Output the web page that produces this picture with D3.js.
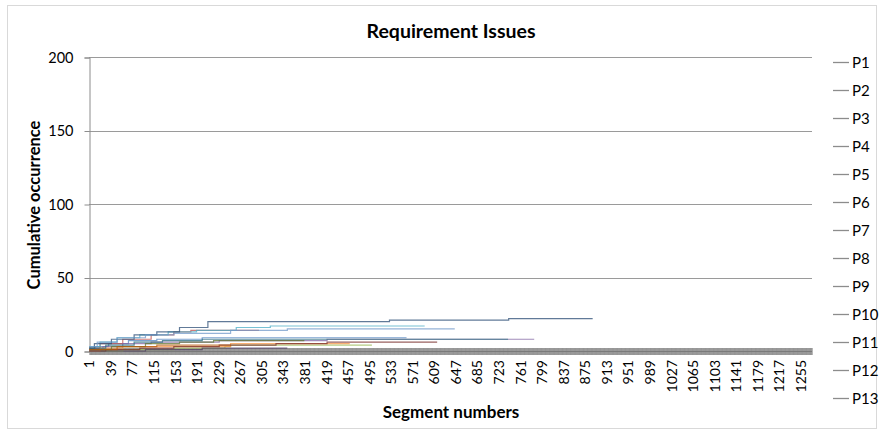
<!DOCTYPE html>
<html><head><meta charset="utf-8">
<script src="https://cdn.jsdelivr.net/npm/d3@7"></script>
<style>body{margin:0;background:#fff}svg{display:block}text{font-family:Lato,"Open Sans",sans-serif;fill:#000}</style>
</head><body><svg id="c" width="882" height="434"></svg>
<script>
// ---- data ----
const seriesNames = ["P1","P2","P3","P4","P5","P6","P7","P8","P9","P10","P11","P12","P13"];
const seriesColors = ["#4F81BD","#C0504D","#9BBB59","#8064A2","#4BACC6","#F79646","#2C4D75","#772C2A","#5F7530","#4D3B62","#276A7C","#B65708","#729ACA"];
// each series: change points [segment, cumulative occurrence]
const p1  = [[1,1],[12,3],[35,5],[70,7],[120,8],[200,9]];
const p2  = [[1,2],[20,5],[60,8],[110,11],[150,13],[180,14]];
const p3  = [[1,0],[60,1],[150,2],[240,3],[250,4]];
const p4  = [[1,1],[25,3],[60,5],[110,6],[230,7],[420,8]];
const p5  = [[1,3],[20,6],[50,9],[90,11],[140,13],[190,14],[260,16],[320,17]];
const p6  = [[1,0],[20,2],[60,3],[250,5]];
const p7  = [[1,2],[10,5],[40,8],[80,11],[120,13],[160,16],[210,20],[530,21],[740,22]];
const p8  = [[1,0],[30,1],[90,2],[150,3],[230,4],[330,5],[420,6]];
const p9  = [[1,1],[40,3],[100,5],[160,6],[220,7]];
const p10 = [[1,0],[100,1],[200,2]];
const p11 = [[1,2],[30,4],[80,6],[130,7],[200,8]];
const p12 = [[1,1],[50,3],[120,4]];
const p13 = [[1,3],[15,6],[50,9],[100,11],[150,12],[250,14],[350,15]];
const seriesPoints = [p1,p2,p3,p4,p5,p6,p7,p8,p9,p10,p11,p12,p13];
// last segment of each series
const seriesEnds = [560,300,499,785,592,460,888,614,380,350,739,250,645];
const segmentCount = 1274;
const xTickLabels = d3.range(1, 1256, 38);
const yTicks = [0,50,100,150,200];

// ---- chart ----
const svg = d3.select("#c");
svg.append("rect").attr("x",7.5).attr("y",5.5).attr("width",869).attr("height",423)
  .attr("fill","#fff").attr("stroke","#d9d9d9");

const x = d3.scaleLinear().domain([0.5, segmentCount + 0.5]).range([89, 812]);
const y = d3.scaleLinear().domain([0, 200]).range([351, 57]);

// gridlines
svg.append("g").selectAll("line").data(yTicks.filter(d=>d>0)).join("line")
  .attr("x1", 89).attr("x2", 812).attr("y1", d=>Math.round(y(d))+0.5).attr("y2", d=>Math.round(y(d))+0.5)
  .attr("stroke","#9a9a9a").attr("stroke-width",1);

// y axis
const yAxis = svg.append("g").attr("transform","translate(89.5,0.5)")
  .call(d3.axisLeft(y).tickValues(yTicks).tickSize(5).tickPadding(11));
yAxis.select(".domain").attr("stroke","#8c8c8c");
yAxis.selectAll(".tick line").attr("stroke","#8c8c8c");
yAxis.selectAll("text").style("font-size","14.5px").style("font-family","Lato");

// x axis: tick for every segment
const xAxis = svg.append("g").attr("transform","translate(0,348)")
  .call(d3.axisBottom(x).tickValues(d3.range(1, segmentCount+1)).tickSize(7).tickFormat(""));
xAxis.select(".domain").remove();
xAxis.selectAll(".tick line").attr("stroke","#8a8a8a").attr("stroke-width",0.8);
svg.append("line").attr("x1",89).attr("x2",812).attr("y1",351.5).attr("y2",351.5).attr("stroke","#7a7a7a");

svg.append("g").selectAll("text").data(xTickLabels).join("text")
  .attr("transform", d=>`translate(${x(d)+5},360) rotate(-90)`)
  .attr("text-anchor","end").style("font-size","14px").text(d=>d);

// series
const line = d3.line().x(d=>x(d[0])).y(d=>y(d[1])).curve(d3.curveStepAfter);
seriesPoints.forEach((pts, i) => {
  const full = pts.concat([[seriesEnds[i], pts[pts.length-1][1]]]);
  svg.append("path").datum(full).attr("d", line)
    .attr("fill","none").attr("stroke", seriesColors[i]).attr("stroke-width",1.2).attr("opacity",0.75);
});

// titles
svg.append("text").attr("x",451).attr("y",38).attr("text-anchor","middle")
  .style("font-size","19.5px").style("font-weight","bold").text("Requirement Issues");
svg.append("text").attr("transform","translate(40,205) rotate(-90)").attr("text-anchor","middle")
  .style("font-size","16.5px").style("font-weight","bold").text("Cumulative occurrence");
svg.append("text").attr("x",451).attr("y",418).attr("text-anchor","middle")
  .style("font-size","17px").style("font-weight","bold").text("Segment numbers");

// legend
const lg = svg.append("g").selectAll("g").data(seriesNames).join("g")
  .attr("transform",(d,i)=>`translate(833,${62 + i*28})`);
lg.append("line").attr("x1",0).attr("x2",16).attr("y1",0.5).attr("y2",0.5)
  .attr("stroke","#8c8c8c").attr("stroke-width",1.3);
lg.append("text").attr("x",19).attr("y",5.5).style("font-size","15px").text(d=>d);
</script></body></html>
